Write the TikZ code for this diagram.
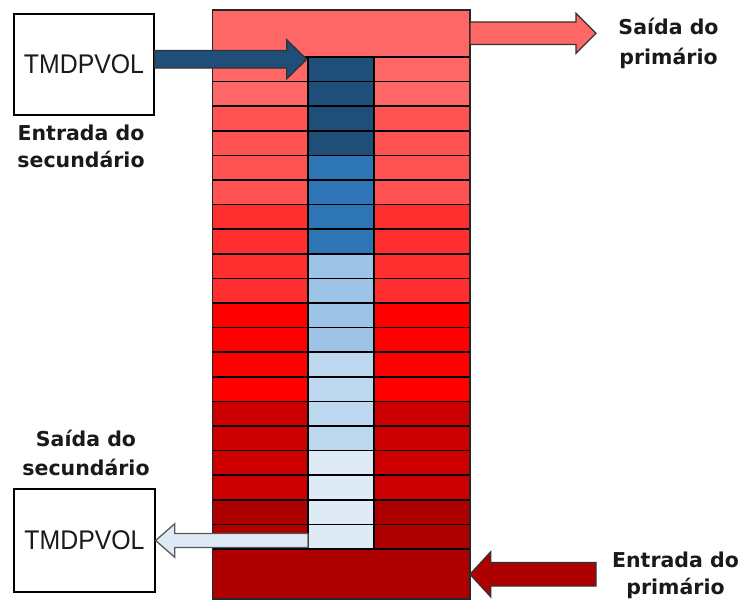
\documentclass[tikz,border=0pt]{standalone}
\usepackage{fontspec}
\setmainfont{Liberation Sans}
\newfontfamily\tmfont[FakeStretch=0.92]{Liberation Sans}
\newfontfamily\lblfont{DejaVu Sans}
\usetikzlibrary{calc}
\definecolor{rA}{HTML}{FF6666}
\definecolor{rB}{HTML}{FF5353}
\definecolor{rC}{HTML}{FF2F2F}
\definecolor{rD}{HTML}{FF0000}
\definecolor{rE}{HTML}{CC0000}
\definecolor{rF}{HTML}{AE0000}
\definecolor{bA}{HTML}{1F4E79}
\definecolor{bB}{HTML}{2E75B6}
\definecolor{bC}{HTML}{9DC3E6}
\definecolor{bD}{HTML}{BDD7EE}
\definecolor{bE}{HTML}{DEEBF7}
\definecolor{txt}{HTML}{1A1A1A}
% right-pointing block arrow: style, tail, tip, shaft half, head half, head length
\newcommand\rblockarrow[6]{%
  \path[#1] let \p1=(#2), \p2=(#3) in
    (\x1,\y2+#4) -- (\x2-#6,\y2+#4) -- (\x2-#6,\y2+#5) -- (\x2,\y2)
    -- (\x2-#6,\y2-#5) -- (\x2-#6,\y2-#4) -- (\x1,\y2-#4) -- cycle;}
% left-pointing block arrow
\newcommand\lblockarrow[6]{%
  \path[#1] let \p1=(#2), \p2=(#3) in
    (\x1,\y2+#4) -- (\x2+#6,\y2+#4) -- (\x2+#6,\y2+#5) -- (\x2,\y2)
    -- (\x2+#6,\y2-#5) -- (\x2+#6,\y2-#4) -- (\x1,\y2-#4) -- cycle;}
\begin{document}
\begin{tikzpicture}[x=1pt,y=-1pt,
  cell/.style={draw=black,line width=1.5pt},
  tmbox/.style={draw=black,line width=1.3pt,fill=white,minimum width=140pt,minimum height=101pt,inner sep=0pt,font=\tmfont\fontsize{27pt}{30pt}\selectfont,text=txt},
  lbl/.style={anchor=base,inner sep=0pt,text=txt,font=\lblfont\bfseries\fontsize{20.5pt}{28pt}\selectfont},
  arrowshape/.style={draw=#1,line width=1.3pt,line join=miter},
]
\useasboundingbox (0,0) rectangle (744,610);

% top and bottom blocks of the primary side
\draw[cell,fill=rA] (212.5,10) rectangle (470,57);
\draw[cell,fill=rF] (212.5,549) rectangle (470,599);

% the 20 rows: left part, secondary column, right part
\foreach \i/\rc/\bc in {1/rA/bA,2/rA/bA,3/rB/bA,4/rB/bA,5/rB/bB,6/rB/bB,7/rC/bB,8/rC/bB,
  9/rC/bC,10/rC/bC,11/rD/bC,12/rD/bC,13/rD/bD,14/rD/bD,15/rE/bD,16/rE/bD,
  17/rE/bE,18/rE/bE,19/rF/bE,20/rF/bE}{
  \pgfmathsetmacro\ya{57+(\i-1)*24.6}
  \pgfmathsetmacro\yb{57+\i*24.6}
  \draw[cell,fill=\rc] (212.5,\ya) rectangle (308,\yb);
  \draw[cell,fill=\bc] (308,\ya) rectangle (374,\yb);
  \draw[cell,fill=\rc] (374,\ya) rectangle (470,\yb);
}
\draw[draw=black!85,line width=1.8pt] (212.5,10) rectangle (470,599);

% TMDPVOL boxes
\node[tmbox] (tin) at (84,64.5) {TMDPVOL};
\node[tmbox,minimum width=141pt,minimum height=103pt] (tout) at (84.5,540.5) {TMDPVOL};

% arrow end points
\coordinate (secIn) at (306.7,59.3);
\coordinate (secOut) at (308,542);
\coordinate (priOutA) at (470,33.3);
\coordinate (priOutB) at (596,33.3);
\coordinate (priInA) at (596,574.3);
\coordinate (priInB) at (470,574.3);

% block arrows
\rblockarrow{arrowshape=black!80,fill=bA}{tin.east}{secIn}{8.8pt}{19.5pt}{20pt}
\lblockarrow{arrowshape=black!65,fill=bE}{secOut}{tout.east}{7pt}{16.7pt}{19pt}
\rblockarrow{arrowshape=black!80,fill=rA}{priOutA}{priOutB}{11.3pt}{20pt}{20pt}
\lblockarrow{arrowshape=black!80,fill=rF}{priInA}{priInB}{11.7pt}{22.5pt}{20.7pt}

% labels
\node[lbl] (l1a) at (81,140) {Entrada do};
\node[lbl] (l1b) at (81,167) {secundário};
\node[lbl] (l2a) at (86,446.7) {Saída do};
\node[lbl] (l2b) at (86,475) {secundário};
\node[lbl] (l3a) at (668.5,35) {Saída do};
\node[lbl] (l3b) at (668.5,64.5) {primário};
\node[lbl] (l4a) at (675.5,567.3) {Entrada do};
\node[lbl] (l4b) at (675.5,594) {primário};
\end{tikzpicture}
\end{document}
